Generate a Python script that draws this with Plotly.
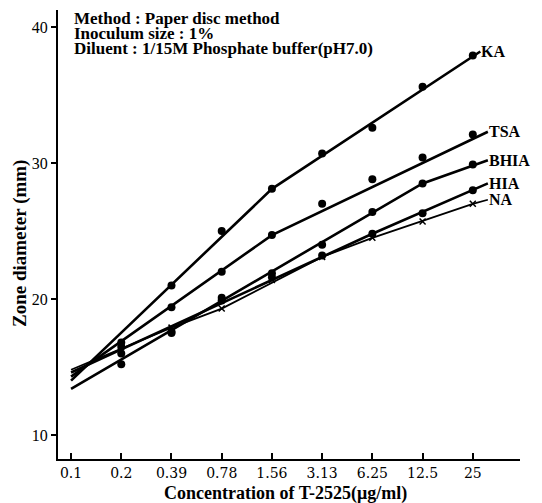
import plotly.graph_objects as go

categories = ["0.1", "0.2", "0.39", "0.78", "1.56", "3.13", "6.25", "12.5", "25"]
cat_idx = list(range(len(categories)))

# Observed zone diameters (mm) at 0.2 ... 25 ug/ml
obs_idx = [1, 2, 3, 4, 5, 6, 7, 8]
ka_obs = [16.8, 21.0, 25.0, 28.1, 30.7, 32.6, 35.6, 37.9]
tsa_obs = [16.5, 19.4, 22.0, 24.7, 27.0, 28.8, 30.4, 32.1]
bhia_obs = [16.0, 17.6, 20.1, 21.9, 24.0, 26.4, 28.5, 29.9]
hia_obs = [15.2, 17.5, 19.9, 21.6, 23.2, 24.8, 26.3, 28.0]
na_obs = [16.2, 17.9, 19.3, 21.4, 23.1, 24.5, 25.7, 27.0]

# Fitted (regression) lines: knots in category-index units
ka_fit_x = [0, 4, 8.15]
ka_fit_y = [14.0, 28.1, 38.2]
tsa_fit_x = [0, 4, 8.3]
tsa_fit_y = [14.3, 24.7, 32.3]
bhia_fit_x = [0, 7, 8.3]
bhia_fit_y = [13.4, 28.5, 30.2]
hia_fit_x = [0, 6, 8.3]
hia_fit_y = [14.6, 24.8, 28.5]
na_fit_x = [0, 2, 3, 5, 6, 8, 8.3]
na_fit_y = [14.8, 17.9, 19.3, 23.1, 24.5, 27.0, 27.3]

series_names = ["KA", "TSA", "BHIA", "HIA", "NA"]

y_ticks = [10, 20, 30, 40]

note_lines = ["Method : Paper disc method",
              "Inoculum size : 1%",
              "Diluent : 1/15M Phosphate buffer(pH7.0)"]

FONT = "Liberation Serif"
TICKFONT = "DejaVu Serif"

fig = go.Figure()

fits = [(ka_fit_x, ka_fit_y), (tsa_fit_x, tsa_fit_y), (bhia_fit_x, bhia_fit_y),
        (hia_fit_x, hia_fit_y), (na_fit_x, na_fit_y)]
for name, (fx, fy) in zip(series_names, fits):
    fig.add_trace(go.Scatter(x=fx, y=fy, mode="lines", name=name + " fit",
                             line=dict(color="black", width=2.6 if name != "NA" else 1.8),
                             showlegend=False, hoverinfo="skip"))

for name, obs in zip(series_names[:4], [ka_obs, tsa_obs, bhia_obs, hia_obs]):
    fig.add_trace(go.Scatter(x=obs_idx, y=obs, mode="markers", name=name,
                             marker=dict(color="black", size=8, symbol="circle"),
                             showlegend=False))
fig.add_trace(go.Scatter(x=obs_idx, y=na_obs, mode="markers", name="NA",
                         marker=dict(color="black", size=6, symbol="x-thin",
                                     line=dict(color="black", width=1.5)),
                         showlegend=False))

# Series labels at line ends
for name, (fx, fy) in zip(series_names, fits):
    fig.add_annotation(x=fx[-1], y=fy[-1], text="<b>" + name + "</b>",
                       showarrow=False, xanchor="left", yanchor="middle", xshift=0,
                       borderpad=0,
                       font=dict(family=FONT, size=16, color="black"))

# Method notes (top-left)
for i, t in enumerate(note_lines):
    fig.add_annotation(xref="paper", yref="paper", x=0.032, y=1 - (9 + 14.5 * i) / 449,
                       text="<b>" + t + "</b>", showarrow=False,
                       xanchor="left", yanchor="middle", borderpad=0,
                       font=dict(family=FONT, size=17, color="black"))

# Axis titles
fig.add_annotation(xref="paper", yref="paper", x=(285 - 58) / 462, y=-(34 / 449),
                   text="<b>Concentration of T-2525(μg/ml)</b>", showarrow=False,
                   xanchor="center", yanchor="middle", borderpad=0,
                   font=dict(family=FONT, size=18, color="black"))
fig.add_annotation(xref="paper", yref="paper", x=-(38 / 462), y=(459 - 244) / 449,
                   text="<b>Zone diameter (mm)</b>", showarrow=False, textangle=-90,
                   xanchor="center", yanchor="middle", borderpad=0,
                   font=dict(family=FONT, size=19, color="black"))

# The page body adds an 8px offset, so the figure is 8px smaller on each side
fig.update_layout(
    width=534, height=495,
    margin=dict(l=50, r=22, t=2, b=44),
    paper_bgcolor="white", plot_bgcolor="white",
    showlegend=False,
)
fig.update_xaxes(
    range=[-0.26, 8.94], tickmode="array", tickvals=cat_idx, ticktext=categories,
    automargin=False,
    showgrid=False, zeroline=False, showline=True, linecolor="black", linewidth=2,
    ticks="inside", ticklen=6, tickwidth=1.5, tickcolor="black",
    tickfont=dict(family=TICKFONT, size=14, color="black"),
)
fig.update_yaxes(
    range=[8.24, 41.25], tickmode="array", tickvals=y_ticks,
    automargin=False,
    showgrid=False, zeroline=False, showline=True, linecolor="black", linewidth=2,
    ticks="outside", ticklen=5, tickwidth=1.5, tickcolor="black",
    tickfont=dict(family=FONT, size=16, color="black"),
)

fig.write_html("out.html")
